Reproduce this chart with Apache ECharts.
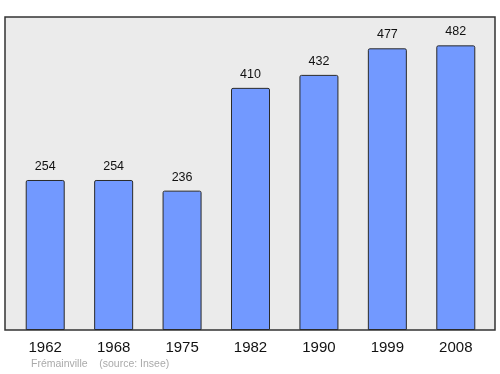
<!DOCTYPE html>
<html><head><meta charset="utf-8">
<script src="https://cdn.jsdelivr.net/npm/echarts@6/dist/echarts.min.js"></script>
<style>html,body{margin:0;padding:0;background:#fff}#c{width:500px;height:374px}</style>
</head><body><div id="c"></div>
<script>
const years = ['1962','1968','1975','1982','1990','1999','2008'];
const population = [254, 254, 236, 410, 432, 477, 482];
const sourceText = 'Frémainville    (source: Insee)';

const chart = echarts.init(document.getElementById('c'), null, {renderer:'canvas'});
chart.setOption({
  animation: false,
  textStyle: {fontFamily: 'Liberation Sans, Arial, sans-serif'},
  graphic: [
    {type:'rect', z:-10, shape:{x:5, y:17, width:490, height:313},
     style:{fill:'#ebebeb', stroke:'#333', lineWidth:1.5}},
    {type:'text', left:31, top:359, style:{text:sourceText, fill:'#aaa', font:'10.5px Liberation Sans, Arial, sans-serif'}}
  ],
  grid: {left:11, right:10, top:17, bottom:44},
  xAxis: {type:'category', data:years, boundaryGap:true,
    axisLine:{show:false}, axisTick:{show:false},
    axisLabel:{fontSize:15, color:'#111', margin:10}},
  yAxis: {type:'value', min:0, max:530, show:false, splitLine:{show:false}},
  series: [{type:'bar', data:population, barWidth:39,
    itemStyle:{color:'#7299ff', borderColor:'#2a2a2a', borderWidth:1, borderRadius:[1.5,1.5,0,0]},
    label:{show:true, position:'top', distance:7, fontSize:12.5, color:'#111'}}]
});
</script></body></html>
